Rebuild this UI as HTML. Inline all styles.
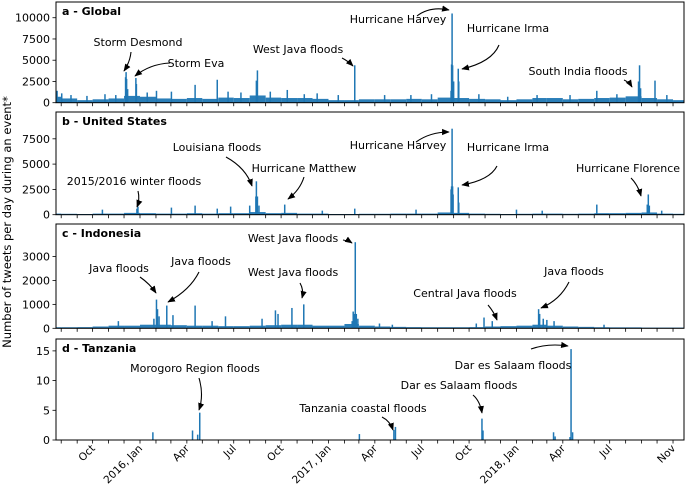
<!DOCTYPE html>
<html><head><meta charset="utf-8">
<style>
html,body{margin:0;padding:0;background:#fff;}
svg{display:block;font-family:"DejaVu Sans","Liberation Sans",sans-serif;}
</style></head>
<body>
<svg id="chart" width="685" height="486">
<defs><marker id="ah" viewBox="0 0 10 10" refX="9" refY="5" markerWidth="7" markerHeight="7" orient="auto-start-reverse"><path d="M0,1 L10,5 L0,9 Z" fill="#000"/></marker></defs>
<g id="layer"></g>
<text transform="translate(11,222) rotate(-90)" text-anchor="middle" font-size="11.5">Number of tweets per day during an event*</text>
</svg>
<script>
// ---- data ----
const monthStarts = ["2015-07","2015-08","2015-09","2015-10","2015-11","2015-12","2016-01","2016-02","2016-03","2016-04","2016-05","2016-06","2016-07","2016-08","2016-09","2016-10","2016-11","2016-12","2017-01","2017-02","2017-03","2017-04","2017-05","2017-06","2017-07","2017-08","2017-09","2017-10","2017-11","2017-12","2018-01","2018-02","2018-03","2018-04","2018-05","2018-06","2018-07","2018-08","2018-09","2018-10","2018-11"];
const bgGlobal = [700,500,300,400,500,800,700,500,450,550,450,600,550,850,600,550,550,450,300,300,400,400,400,450,400,600,550,450,400,300,400,550,550,400,450,550,600,750,550,400,300];
const bgUS = [110,90,70,110,110,180,150,110,110,150,110,150,150,260,150,180,110,110,70,70,90,90,110,110,110,220,180,110,90,70,90,110,110,90,110,150,150,180,220,110,90];
const bgID = [45,45,50,75,110,110,150,150,130,110,110,90,90,110,130,150,150,110,110,180,110,75,60,50,45,45,45,50,75,90,110,150,110,75,60,45,40,40,30,30,30];

const spikeDatesA = ["2015-07-24","2015-08-02","2015-08-20","2015-09-20","2015-10-25","2015-11-15","2015-12-04","2015-12-05","2015-12-06","2015-12-08","2015-12-24","2015-12-25","2016-01-15","2016-02-02","2016-03-02","2016-04-17","2016-05-30","2016-06-20","2016-07-15","2016-08-14","2016-08-16","2016-09-10","2016-10-13","2016-11-15","2016-12-10","2017-01-20","2017-02-21","2017-04-20","2017-06-10","2017-07-20","2017-08-27","2017-08-28","2017-08-29","2017-08-30","2017-09-01","2017-09-10","2017-09-11","2017-10-20","2017-12-15","2018-02-10","2018-04-15","2018-06-06","2018-07-15","2018-08-26","2018-08-28","2018-08-30","2018-09-27","2018-10-20"];
const spikeValsA = [1400,1100,900,800,1000,900,3000,3600,2800,1600,2900,2200,1200,1400,1300,2100,2700,1300,1200,2600,3800,1300,1500,1000,1100,900,4400,900,900,1000,1400,4500,10500,4400,2500,4000,2500,1000,700,900,900,1400,1000,2500,4400,1700,2600,900];

const spikeDatesB = ["2015-10-20","2015-12-26","2015-12-28","2016-03-02","2016-04-17","2016-05-30","2016-06-25","2016-08-01","2016-08-13","2016-08-14","2016-08-16","2016-08-19","2016-10-08","2016-12-20","2017-02-21","2017-06-20","2017-08-27","2017-08-28","2017-08-29","2017-08-30","2017-08-31","2017-09-10","2017-09-11","2018-01-01","2018-02-20","2018-06-06","2018-09-12","2018-09-14","2018-09-16","2018-10-10"];
const spikeValsB = [500,600,800,700,900,600,800,900,1800,3300,1800,900,1000,400,600,500,2500,2800,8500,2800,2000,2700,1200,500,400,1000,1000,2000,900,400];

const spikeDatesC = ["2015-11-20","2016-01-28","2016-02-02","2016-02-04","2016-02-07","2016-02-22","2016-03-05","2016-04-17","2016-05-20","2016-06-15","2016-08-25","2016-09-20","2016-09-25","2016-10-22","2016-11-14","2017-02-16","2017-02-18","2017-02-20","2017-02-22","2017-02-24","2017-02-27","2017-04-10","2017-05-05","2017-10-15","2017-10-30","2017-11-15","2018-02-13","2018-02-15","2018-02-22","2018-03-01","2018-03-15","2018-06-20"];
const spikeValsC = [300,400,1200,800,500,950,550,950,300,500,400,750,600,850,1000,300,700,600,3600,600,400,200,150,200,450,300,800,600,400,350,300,150];

const spikeDatesD = ["2016-01-26","2016-04-12","2016-04-22","2016-04-26","2017-03-02","2017-05-08","2017-05-11","2017-10-26","2017-10-28","2018-03-14","2018-03-17","2018-04-15","2018-04-17","2018-04-20"];
const spikeValsD = [1.3,1.6,0.9,4.6,1.0,1.7,2.2,3.6,1.6,1.3,0.6,0.5,15.3,1.3];

const yTicksA = [0,2500,5000,7500,10000];
const yTicksB = [0,2500,5000,7500];
const yTicksC = [0,1000,2000,3000];
const yTicksD = [0,5,10,15];
const xTickLabels = ["Oct","2016, Jan","Apr","Jul","Oct","2017, Jan","Apr","Jul","Oct","2018, Jan","Apr","Jul","Nov"];
const xTickDates = ["2015-10-01","2016-01-01","2016-04-01","2016-07-01","2016-10-01","2017-01-01","2017-04-01","2017-07-01","2017-10-01","2018-01-01","2018-04-01","2018-07-01","2018-11-01"];

// ---- layout ----
const NS="http://www.w3.org/2000/svg";
const layer=document.getElementById('layer');
const L=56,R=684,BLUE="#1f77b4";
const D0=Date.UTC(2016,0,1);
function dayOf(s){const p=s.split('-').map(Number);return (Date.UTC(p[0],p[1]-1,p[2]||1)-D0)/86400000;}
function xs(s){return 140+dayOf(s)*0.515;}
const panels=[
 {name:'global',title:'a - Global',top:2,base:102.7,max:11850,bg:bgGlobal,sd:spikeDatesA,sv:spikeValsA,ticks:yTicksA},
 {name:'united-states',title:'b - United States',top:112,base:214.7,max:10150,bg:bgUS,sd:spikeDatesB,sv:spikeValsB,ticks:yTicksB},
 {name:'indonesia',title:'c - Indonesia',top:224,base:328.3,max:4360,bg:bgID,sd:spikeDatesC,sv:spikeValsC,ticks:yTicksC},
 {name:'tanzania',title:'d - Tanzania',top:339,base:440,max:17,bg:null,sd:spikeDatesD,sv:spikeValsD,ticks:yTicksD}
];
function el(tag,attrs,parent){const e=document.createElementNS(NS,tag);for(const k in attrs)e.setAttribute(k,attrs[k]);(parent||layer).appendChild(e);return e;}

panels.forEach((p,pi)=>{
  const g=el('g',{});
  
  
  const ys=v=>p.base-v/p.max*(p.base-p.top);
  const clip=el('clipPath',{id:'cp'+pi},g);
  el('rect',{x:L,y:p.top,width:R-L,height:p.base-p.top},clip);
  const bars=el('g',{'clip-path':'url(#cp'+pi+')'},g);
  if(p.bg){
    p.bg.forEach((v,i)=>{
      const x0=Math.max(L,xs(monthStarts[i])), x1=i+1<monthStarts.length?xs(monthStarts[i+1]):R;
      const r=el('rect',{x:x0,y:ys(v),width:Math.max(0,x1-x0),height:p.base-ys(v),fill:BLUE,opacity:0.95},bars);
      
      
    });
  }
  p.sd.forEach((d,i)=>{
    const v=p.sv[i];
    const r=el('rect',{x:xs(d)-0.75,y:ys(v),width:1.5,height:p.base-ys(v),fill:BLUE},bars);
    
    
  });
  el('rect',{x:L,y:p.top,width:R-L,height:p.base-p.top,fill:'none',stroke:'#000','stroke-width':1},g);
  p.ticks.forEach(t=>{
    const y=ys(t);
    el('line',{x1:L-3.5,x2:L,y1:y,y2:y,stroke:'#000','stroke-width':0.8},g);
    const tx=el('text',{x:L-6,y:y+4,'text-anchor':'end','font-size':11},g);
    tx.textContent=t;
    
    
  });
  for(let m=0;m<monthStarts.length;m++){
    const x=xs(monthStarts[m]);
    if(x<L||x>R)continue;
    el('line',{x1:x,x2:x,y1:p.base,y2:p.base+3.5,stroke:'#000','stroke-width':0.8},g);
  }
  const t=el('text',{x:62,y:p.top+13,'font-size':11,'font-weight':'bold'},g);
  t.textContent=p.title;
  
  
  if(pi===3){
    xTickDates.forEach((d,i)=>{
      const x=xs(d);
      const tx=el('text',{'font-size':10.5,'text-anchor':'end',transform:`translate(${x+3},${p.base+9}) rotate(-45)`},g);
      tx.textContent=xTickLabels[i];
      
      
    });
  }
});

const notes=[
 ["Storm Desmond",138,46,"M131,52 Q130,62 124,71"],
 ["Storm Eva",196,67,"M170,63 Q150,64 135,76"],
 ["West Java floods",298,53,"M342,58 Q348,61 353,66"],
 ["Hurricane Harvey",398,23,"M417,16 Q430,6 449,10"],
 ["Hurricane Irma",508,32,"M499,45 Q492,62 462,69"],
 ["South India floods",578,75,"M624,80 Q629,82 632,87"],
 ["Louisiana floods",217,151,"M226,157 Q246,168 252,186"],
 ["2015/2016 winter floods",134,185,"M138,191 Q140,199 137,207"],
 ["Hurricane Matthew",304,172,"M304,177 Q300,190 288,199"],
 ["Hurricane Harvey",398,149,"M416,142 Q430,132 449,132"],
 ["Hurricane Irma",508,151,"M497,166 Q490,180 462,185"],
 ["Hurricane Florence",628,172,"M631,178 Q638,185 641,196"],
 ["Java floods",119,272,"M140,277 Q150,284 156,293"],
 ["Java floods",201,265,"M199,272 Q190,290 168,302"],
 ["West Java floods",293,242,"M343,240 Q349,241 352,243"],
 ["West Java floods",293,276,"M300,283 Q304,290 302,298"],
 ["Central Java floods",465,297,"M488,305 Q494,312 497,320"],
 ["Java floods",574,275,"M569,282 Q560,300 541,308"],
 ["Morogoro Region floods",195,372,"M199,378 Q204,395 199,410"],
 ["Tanzania coastal floods",363,412,"M382,417 Q390,421 393,430"],
 ["Dar es Salaam floods",459,389,"M473,395 Q480,401 482,413"],
 ["Dar es Salaam floods",513,369,"M531,349 Q548,343 568,346"]
];
notes.forEach(n=>{
  const t=el('text',{x:n[1],y:n[2],'text-anchor':'middle','font-size':11});
  t.textContent=n[0];
  
  
  const a=el('path',{d:n[3],fill:'none',stroke:'#000','stroke-width':1.1,'marker-end':'url(#ah)'});
  
  
});
</script>
</body></html>
